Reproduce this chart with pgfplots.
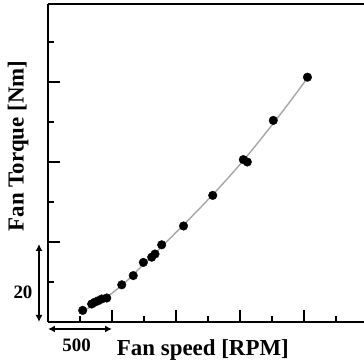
\documentclass[border=0pt]{standalone}
\usepackage{fontspec}
\setmainfont{Liberation Serif}
\usepackage{pgfplots}
\pgfplotsset{compat=1.18}
\usetikzlibrary{arrows.meta}
\begin{document}
\begin{tikzpicture}
\begin{axis}[
  scale only axis,
  width=316bp, height=318bp,
  xmin=0, xmax=2468.75,
  ymin=0, ymax=79.5,
  axis x line=box, axis y line=left,
  axis line style={-, line width=1.4bp, black},
  xtick pos=left, ytick pos=left,
  tick align=inside,
  xtick={0,500,1000,1500,2000}, minor xtick={250,750,1250,1750,2250},
  ytick={0,20,40,60}, minor ytick={10,30,50,70},
  xticklabels={}, yticklabels={},
  major tick length=12bp, minor tick length=6bp,
  every tick/.style={black, line width=1.4bp},
  clip=false,
]
\addplot[black!35, line width=1.4bp, smooth, tension=0.5] coordinates {
(270,2.7) (400,5.0) (500,7.2) (600,9.8) (750,14.5) (900,19.2) (1050,24.0)
(1200,28.9) (1350,34.0) (1500,39.4) (1650,45.2) (1800,51.3) (1900,55.5) (2027,61.0)
};
\addplot[only marks, mark=*, mark size=4.3bp, black] coordinates {
(271,2.9) (341,4.5) (362,4.9) (391,5.3) (420,5.75) (459,6.0)
(576,9.3) (666,11.6) (745,14.9) (810,16.2) (836,17.0) (888,19.3)
(1059,24.0) (1287,31.65) (1526,40.6) (1557,40.0) (1760,50.4) (2027,61.2)
};
\coordinate (O) at (axis cs:0,0);
\draw[{Latex[length=7bp,width=7bp]}-{Latex[length=7bp,width=7bp]}, line width=1.4bp]
  ([yshift=-7bp]axis cs:0,0) -- ([yshift=-7bp]axis cs:500,0);
\draw[{Latex[length=7bp,width=7bp]}-{Latex[length=7bp,width=7bp]}, line width=1.4bp]
  ([xshift=-9bp]axis cs:0,0) -- ([xshift=-9bp]axis cs:0,19.5);
\node[anchor=base, font=\bfseries\fontsize{19}{22}\selectfont] at ([yshift=-29bp]axis cs:224,0) {500};
\node[anchor=base, font=\bfseries\fontsize{19}{22}\selectfont] at ([xshift=-25bp]axis cs:0,5.75) {20};
\node[anchor=base, font=\bfseries\fontsize{23}{26}\selectfont] at ([yshift=-33bp]axis cs:1210,0) {Fan speed [RPM]};
\node[rotate=90, font=\bfseries\fontsize{23}{26}\selectfont] at ([xshift=-30bp]axis cs:0,44) {Fan Torque [Nm]};
\end{axis}
\pgfresetboundingbox
\useasboundingbox ([shift={(-48bp,-41bp)}]O) rectangle ([shift={(316bp,322bp)}]O);
\end{tikzpicture}
\end{document}
